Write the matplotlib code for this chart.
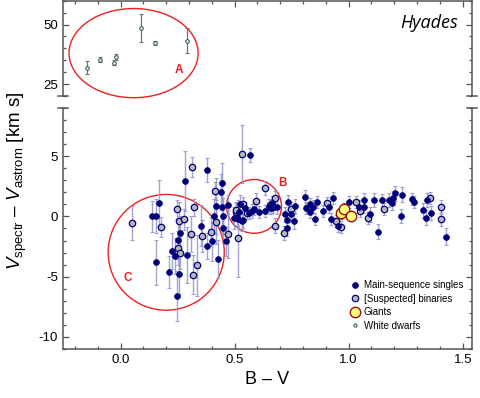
import matplotlib
matplotlib.use("Agg")
import matplotlib.pyplot as plt
from matplotlib.patches import Ellipse
from matplotlib.ticker import MultipleLocator

plt.rcParams["font.family"] = ["Liberation Sans", "DejaVu Sans"]
plt.rcParams["axes.unicode_minus"] = False
plt.rcParams["mathtext.fontset"] = "custom"
plt.rcParams["mathtext.rm"] = "Liberation Sans"
plt.rcParams["mathtext.it"] = "Liberation Sans:italic"

# main-sequence singles: B-V, dV, error
single_bv = [0.136, 0.156, 0.168, 0.154, 0.212, 0.224, 0.237, 0.250, 0.256, 0.247,
             0.262, 0.282, 0.291, 0.352, 0.377, 0.379, 0.399, 0.408, 0.420, 0.428,
             0.439, 0.443, 0.446, 0.449, 0.449, 0.460, 0.472, 0.496, 0.510, 0.522,
             0.534, 0.566, 0.515, 0.537, 0.519, 0.544, 0.563, 0.576, 0.586, 0.607,
             0.632, 0.650, 0.665, 0.661, 0.686, 0.731, 0.734, 0.728, 0.761, 0.764,
             0.719, 0.746, 0.808, 0.811, 0.829, 0.832, 0.852, 0.863, 0.845, 0.887,
             0.912, 0.922, 0.955, 0.931, 1.002, 1.045, 1.069, 1.066, 1.095, 1.110,
             1.127, 1.145, 1.177, 1.189, 1.194, 1.202, 1.234, 1.229, 1.276, 1.285,
             1.326, 1.338, 1.344, 1.361, 1.428]
single_dv = [0.00, 0.05, 1.10, -3.80, -4.60, -2.84, -3.30, -1.97, -4.80, -6.60,
             -1.34, 2.92, -3.20, -0.77, -2.46, 3.82, -2.08, 0.03, 0.87, -3.55,
             2.02, 2.76, 0.82, 0.05, -1.00, -2.08, 0.98, -0.16, -0.05, 1.04,
             -0.38, 5.08, -0.19, -0.33, 0.35, 0.71, 0.27, 0.43, 0.63, 0.35,
             0.43, 0.82, 1.09, 0.71, 0.82, -1.00, 1.17, -0.33, -0.41, 0.87,
             0.16, 0.16, 1.58, 0.66, 1.04, 0.35, -0.25, 1.17, 0.82, 0.43,
             0.76, -0.25, -0.76, 1.53, 1.20, 0.82, 1.37, 0.82, 0.16, 1.37,
             -1.26, 1.37, 1.37, 1.09, 1.53, 1.91, 1.80, 0.03, 1.42, 1.20,
             0.49, -0.11, 1.37, 0.27, -1.70]
single_err = [1.3, 1.4, 1.9, 1.85, 1.3, 1.5, 1.5, 1.6, 1.6, 2.05,
              1.4, 2.5, 2.3, 1.7, 1.1, 1.0, 1.6, 1.4, 2.3, 1.6,
              1.5, 1.7, 2.2, 1.5, 1.2, 1.2, 0.8, 0.9, 0.8, 0.7,
              0.8, 0.6, 0.6, 0.6, 0.6, 0.5, 0.5, 0.6, 0.5, 0.5,
              0.5, 0.6, 0.6, 0.5, 0.6, 0.6, 0.6, 0.6, 0.6, 0.6,
              0.6, 0.6, 0.6, 0.5, 0.5, 0.5, 0.5, 0.5, 0.5, 0.5,
              0.5, 0.5, 0.5, 0.5, 0.5, 0.5, 0.6, 0.5, 0.6, 0.6,
              0.6, 0.5, 0.6, 0.6, 0.6, 0.6, 0.6, 0.6, 0.5, 0.5,
              0.6, 0.6, 0.6, 0.6, 0.7]

# [suspected] binaries
binary_bv = [0.048, 0.177, 0.247, 0.256, 0.276, 0.253, 0.262, 0.311, 0.323, 0.310,
             0.317, 0.335, 0.358, 0.396, 0.414, 0.420, 0.469, 0.504, 0.516, 0.534,
             0.507, 0.537, 0.554, 0.595, 0.635, 0.657, 0.668, 0.678, 0.678, 0.716,
             0.749, 0.905, 0.943, 0.965, 1.031, 1.051, 1.086, 1.156, 1.358, 1.405,
             1.405]
binary_dv = [-0.55, -0.87, 0.60, -0.41, -0.25, -2.60, -3.00, 4.10, 0.74, -1.45,
             -4.84, -4.07, -1.64, -1.28, 2.13, -0.47, -1.45, 0.38, -1.80, 5.20,
             0.49, 1.04, 0.27, 1.31, 2.35, 0.98, 0.82, 1.53, -0.76, -1.37,
             0.60, 1.09, -0.38, -0.87, 1.17, 0.43, -0.11, 0.63, 1.53, 0.80,
             -0.22]
binary_err = [1.4, 0.8, 0.8, 1.6, 0.9, 1.4, 1.4, 0.8, 0.7, 1.5,
              1.6, 2.5, 1.3, 1.2, 0.7, 1.8, 2.0, 0.8, 3.2, 2.4,
              0.6, 0.6, 0.5, 0.6, 0.6, 0.5, 0.5, 0.6, 0.6, 0.6,
              0.6, 0.5, 0.5, 0.5, 0.5, 0.5, 0.5, 0.5, 0.5, 0.6,
              0.6]

giant_bv = [0.968, 0.978, 1.012]
giant_dv = [0.27, 0.63, 0.03]
giant_err = [0.5, 0.5, 0.4]

# white dwarfs (upper panel)
wd_bv = [-0.149, -0.091, -0.031, -0.022, 0.091, 0.149, 0.289]
wd_dv = [31.8, 35.3, 34.0, 36.4, 48.5, 42.2, 43.2]
wd_err = [2.7, 1.0, 1.2, 1.4, 6.0, 0.9, 5.3]

NAVY = "#00007a"
GREY = "#b8b8b8"
ERRC = "#9494cc"
RED = "#ee2020"
SPINE = "#555555"

fig = plt.figure(figsize=(4.8, 3.98), dpi=100)
ax_top = fig.add_axes([0.131, 0.759, 0.852, 0.239])
ax = fig.add_axes([0.131, 0.123, 0.852, 0.606])

for a in (ax_top, ax):
    a.set_xlim(-0.253, 1.54)
    a.xaxis.set_major_locator(MultipleLocator(0.5))
    a.xaxis.set_minor_locator(MultipleLocator(0.1))
    for s in a.spines.values():
        s.set_color(SPINE)
        s.set_linewidth(1.1)
    a.tick_params(which="both", direction="in", right=True, color=SPINE,
                  labelsize=9.5, width=0.9)
    a.tick_params(which="major", length=4)
    a.tick_params(which="minor", length=2.5)

ax_top.spines["bottom"].set_visible(False)
ax.spines["top"].set_visible(False)
ax_top.tick_params(which="both", top=True, bottom=False, labelbottom=False)
ax.tick_params(which="both", top=False)

ax_top.set_ylim(20, 60)
ax_top.yaxis.set_major_locator(MultipleLocator(25))
ax_top.yaxis.set_minor_locator(MultipleLocator(5))
ax.set_ylim(-11, 9)
ax.yaxis.set_major_locator(MultipleLocator(5))
ax.yaxis.set_minor_locator(MultipleLocator(1))
ax.set_xticks([0.0, 0.5, 1.0, 1.5], ["0.0", "0.5", "1.0", "1.5"])

# break marks
for a, yb in ((ax_top, 0.0), (ax, 1.0)):
    for xb in (0.0, 1.0):
        a.plot([xb - 0.012, xb + 0.012], [yb, yb], transform=a.transAxes,
               color=SPINE, lw=1.1, clip_on=False)

# white dwarfs
ax_top.errorbar(wd_bv, wd_dv, yerr=wd_err, fmt="none", ecolor="#707070",
                elinewidth=0.9, capsize=1.5, capthick=0.8)
ax_top.plot(wd_bv, wd_dv, "o", ms=2.6, mfc="#e4f0f0", mec="#2f4f4f", mew=0.7)

# main panel error bars
ax.errorbar(single_bv, single_dv, yerr=single_err, fmt="none", ecolor=ERRC,
            elinewidth=1.0, capsize=1.3, capthick=0.8, alpha=0.85, zorder=2)
ax.errorbar(binary_bv, binary_dv, yerr=binary_err, fmt="none", ecolor=ERRC,
            elinewidth=1.0, capsize=1.3, capthick=0.8, alpha=0.85, zorder=2)
ax.errorbar(giant_bv, giant_dv, yerr=giant_err, fmt="none", ecolor="#c06060",
            elinewidth=1.0, capsize=1.3, capthick=0.8, zorder=2)

ax.plot(binary_bv, binary_dv, "o", ms=4.6, mfc=GREY, mec=NAVY, mew=0.9,
        zorder=3, label="[Suspected] binaries")
ax.plot(single_bv, single_dv, "o", ms=4.2, mfc=NAVY, mec=NAVY, mew=0.5,
        zorder=4, label="Main-sequence singles")
ax.plot(giant_bv, giant_dv, "o", ms=7.5, mfc="#ffff80", mec="#a01010", mew=1.0,
        zorder=5, label="Giants")
ax.plot([], [], "o", ms=2.3, mfc="#e4f0f0", mec="#2f4f4f", mew=0.7,
        label="White dwarfs")

h, l = ax.get_legend_handles_labels()
order = [1, 0, 2, 3]
ax.legend([h[i] for i in order], [l[i] for i in order], loc="lower right",
          bbox_to_anchor=(1.0, 0.04), frameon=False, fontsize=7,
          handletextpad=0.4, labelspacing=0.35, handlelength=1.0,
          markerscale=1.0)

# circled groups
ax_top.add_patch(Ellipse((0.057, 38.0), 0.566, 37.5, fill=False, ec=RED,
                         lw=1.0, clip_on=False))
ax.add_patch(Ellipse((0.200, -2.98), 0.509, 9.6, fill=False, ec=RED, lw=1.0))
ax.add_patch(Ellipse((0.585, 0.83), 0.241, 4.46, fill=False, ec=RED, lw=1.0))
ax_top.text(0.254, 30.8, "A", color=RED, fontsize=8.5, fontweight="bold",
            ha="center", va="center")
ax.text(0.71, 2.8, "B", color=RED, fontsize=8.5, fontweight="bold",
        ha="center", va="center")
ax.text(0.03, -5.1, "C", color=RED, fontsize=8.5, fontweight="bold",
        ha="center", va="center")

ax_top.text(0.966, 0.77, "Hyades", transform=ax_top.transAxes, ha="right",
            va="center", fontsize=13, style="italic", family="Open Sans")

ax.set_xlabel("B – V", fontsize=13, labelpad=4)
fig.text(0.012, 0.545, r"$V_{\mathrm{spectr}}$ – $V_{\mathrm{astrom}}$ [km s]",
         rotation=90, ha="left", va="center", fontsize=13.5)

fig.savefig("out.png", dpi=100)
